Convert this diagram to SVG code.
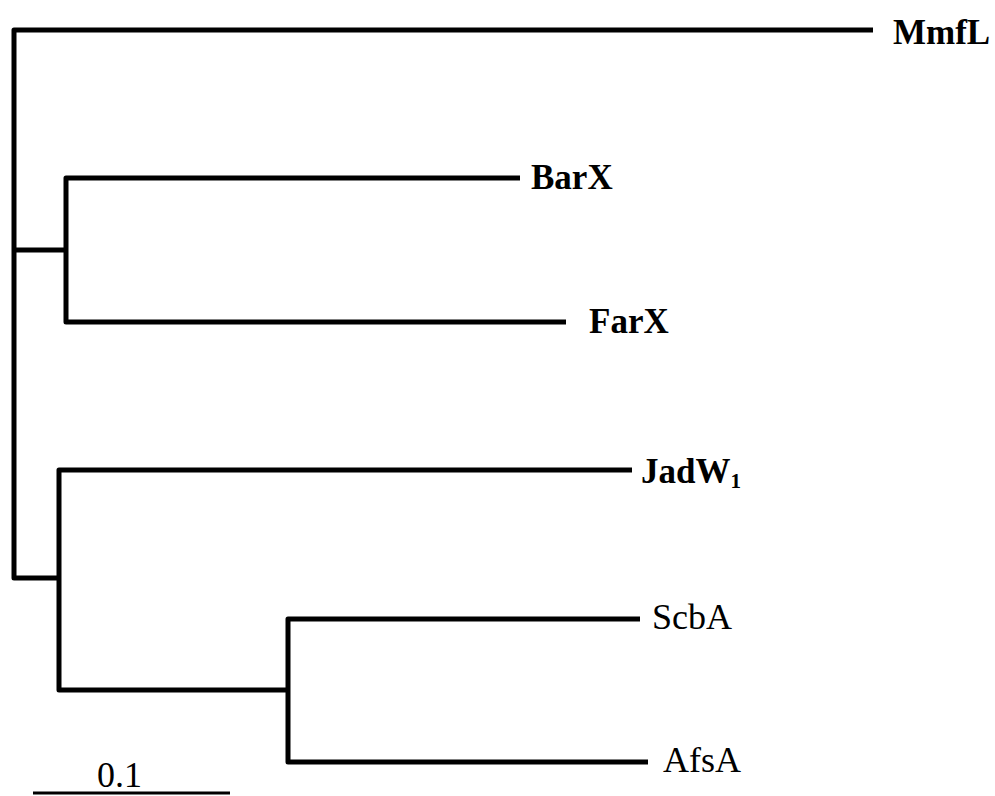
<svg xmlns="http://www.w3.org/2000/svg" width="995" height="796" viewBox="0 0 995 796">
<style>
.br{fill:none;stroke:#000;stroke-width:5;stroke-linejoin:round;stroke-linecap:butt}
.lb{font-family:"Liberation Serif","Times New Roman",serif;font-size:36px;fill:#000}
.b{font-weight:bold;font-size:35px}
</style>
<rect width="995" height="796" fill="#fff"/>
<g id="connectors">
<path class="br" d="M873,30 H14 V578 H59"/>
<path class="br" d="M14,250 H66"/>
<path class="br" d="M520,178 H66 V322 H566"/>
<path class="br" d="M632,470 H59 V690 H288"/>
<path class="br" d="M640,619 H288 V762 H648"/>
<path class="br" d="M33,793 H230" style="stroke-width:3"/>
</g>
<g id="MmfL"><text class="lb b" x="893" y="44">MmfL</text></g>
<g id="BarX"><text class="lb b" x="531" y="189">BarX</text></g>
<g id="FarX"><text class="lb b" x="589" y="333">FarX</text></g>
<g id="JadW1"><text class="lb b" x="641" y="483">JadW<tspan font-size="21" dy="5">1</tspan></text></g>
<g id="ScbA"><text class="lb" x="652" y="629">ScbA</text></g>
<g id="AfsA"><text class="lb" x="663" y="772">AfsA</text></g>
<g id="scale"><text class="lb" x="97" y="787" font-size="33">0.1</text></g>
</svg>
